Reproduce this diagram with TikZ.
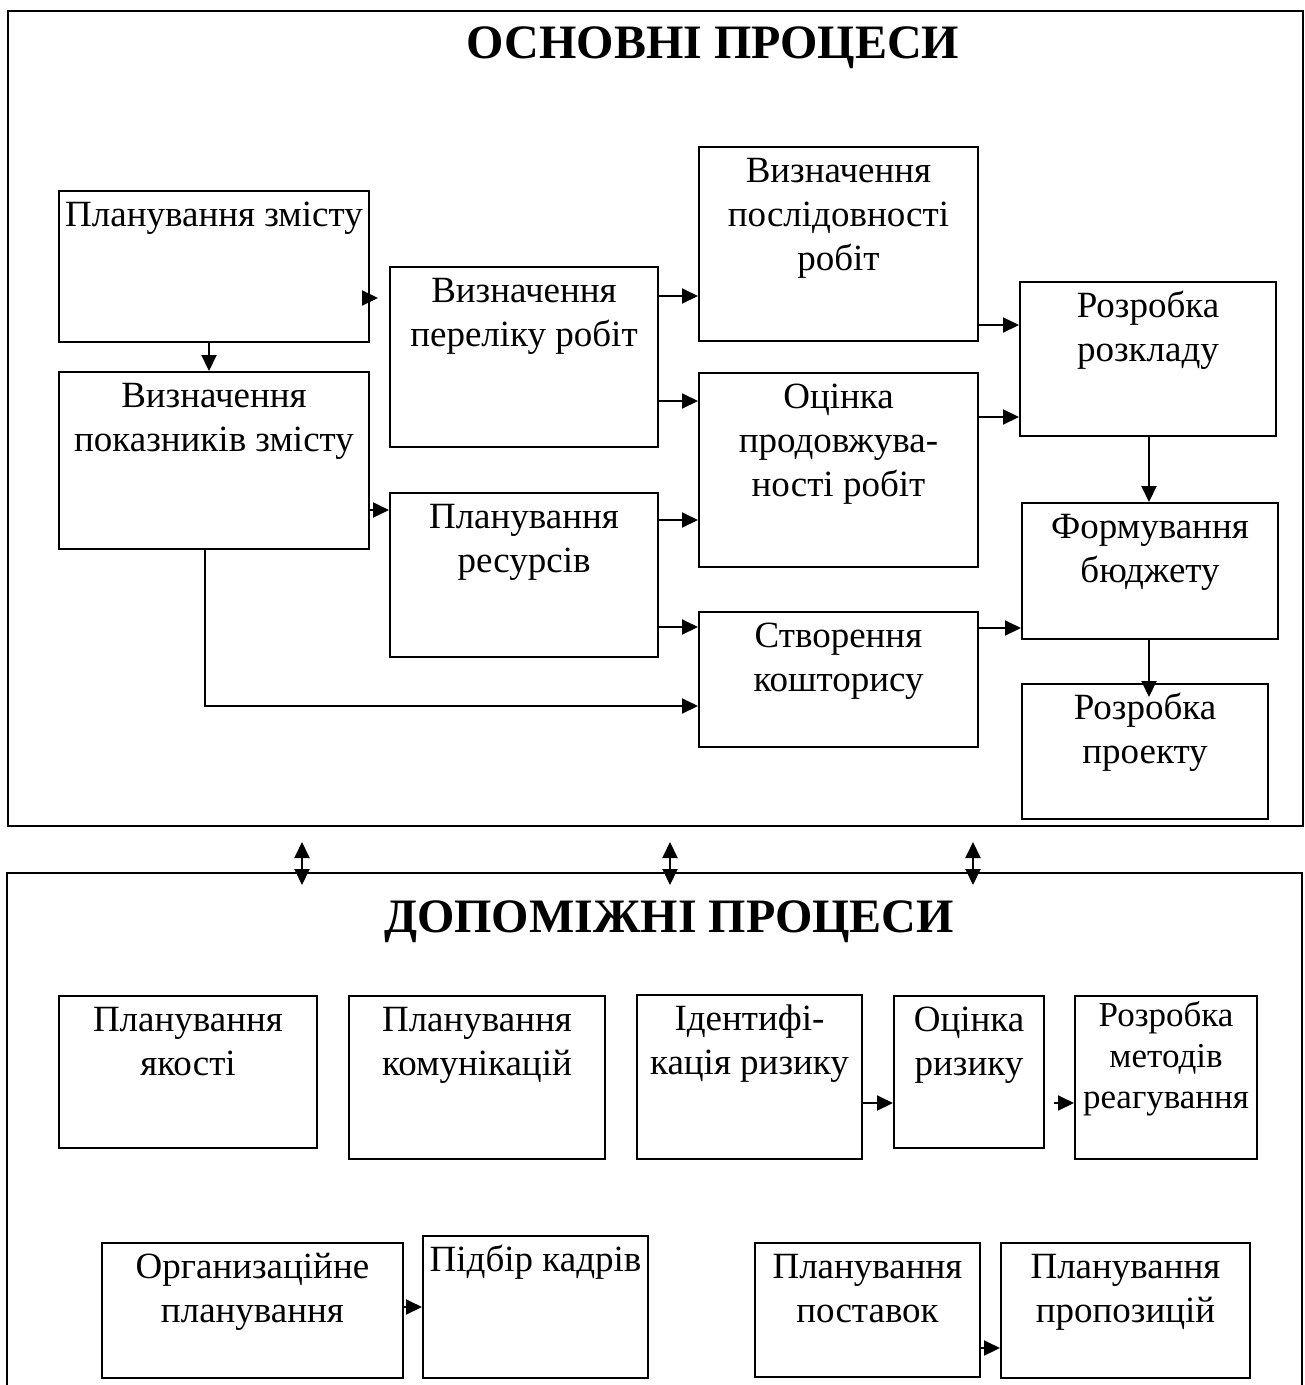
\documentclass[tikz,border=0pt]{standalone}
\usepackage{fontspec}
\setmainfont{Liberation Serif}
\usetikzlibrary{arrows.meta}

% box with its caption set at the top: name, x, y, width, height, text
\newcommand\procbox[6]{%
  \node[pbox, minimum width=#4pt, minimum height=#5pt] (#1) at (#2,#3) {};
  \node[ptext] (#1t) at ([yshift=-5pt]#1.north) {\strut #6};
}

\begin{document}
\begin{tikzpicture}[x=1pt,y=-1pt,
  frame/.style={draw, line width=2pt},
  pbox/.style={draw, line width=2pt, rectangle, inner sep=0pt, anchor=north west},
  ptext/.style={inner sep=0pt, align=center, anchor=north, font=\fontsize{37}{44}\selectfont},
  smalltext/.style={font=\fontsize{35}{41}\selectfont},
  title/.style={inner sep=0pt, anchor=base, font=\fontsize{48}{56}\selectfont\bfseries},
  arr/.style={line width=2pt, -{Triangle[length=16pt,width=15pt]}},
  darr/.style={line width=2pt, {Triangle[length=16pt,width=15pt]}-{Triangle[length=16pt,width=15pt]}},
]
\useasboundingbox[fill=white] (0,0) rectangle (1305,1385);

% ---------------- main processes ----------------
\node[pbox, minimum width=1295pt, minimum height=815pt] (mainframe) at (7,10) {};
\node[title] (maintitle) at (713,58) {ОСНОВНІ ПРОЦЕСИ};

\procbox{A}{58}{190}{310}{151}{Планування змісту}
\procbox{B}{58}{371}{310}{177}{Визначення\\показників змісту}
\procbox{C}{389}{266}{268}{180}{Визначення\\переліку робіт}
\procbox{D}{389}{492}{268}{164}{Планування\\ресурсів}
\procbox{E}{698}{146}{279}{194}{Визначення\\послідовності\\робіт}
\procbox{F}{698}{372}{279}{194}{Оцінка\\продовжува-\\ності робіт}
\procbox{G}{698}{611}{279}{135}{Створення\\кошторису}
\procbox{H}{1019}{281}{256}{154}{Розробка\\розкладу}
\procbox{I}{1021}{502}{256}{136}{Формування\\бюджету}
\procbox{J}{1021}{683}{246}{135}{Розробка\\проекту}

\draw[arr, shorten >=11pt] (A.east |- 0,298) -- (C.west |- 0,298);
\draw[arr] (A.south -| 209,0) -- (B.north -| 209,0);
\draw[arr] (B.east |- 0,510) -- (D.west |- 0,510);
\draw[arr] (C.east |- 0,296) -- (E.west |- 0,296);
\draw[arr] (C.east |- 0,401) -- (F.west |- 0,401);
\draw[arr] (D.east |- 0,520) -- (F.west |- 0,520);
\draw[arr] (D.east |- 0,627) -- (G.west |- 0,627);
\draw[arr] (B.south -| 205,0) |- (G.west |- 0,706);
\draw[arr] (E.east |- 0,325) -- (H.west |- 0,325);
\draw[arr] (F.east |- 0,417) -- (H.west |- 0,417);
\draw[arr] (G.east |- 0,628) -- (I.west |- 0,628);
\draw[arr] (H.south -| 1149,0) -- (I.north -| 1149,0);
\draw[arr, shorten >=-14pt] (I.south -| 1149,0) -- (J.north -| 1149,0);

% ---------------- links between the two groups ----------------
\foreach \px [count=\k] in {302,670,973} {
  \coordinate (up\k) at (\px,842);
  \coordinate (dn\k) at (\px,885);
  \draw[darr] (up\k) -- (dn\k);
}

% ---------------- supporting processes ----------------
\coordinate (lowBL) at (7,1400);
\coordinate (lowTL) at (7,873);
\coordinate (lowTR) at (1302,873);
\coordinate (lowBR) at (1302,1400);
\draw[frame] (lowBL) -- (lowTL) -- (lowTR) -- (lowBR);
\node[title] (suptitle) at (669,932) {ДОПОМІЖНІ ПРОЦЕСИ};

\procbox{K}{58}{995}{258}{152}{Планування\\якості}
\procbox{L}{348}{995}{256}{163}{Планування\\комунікацій}
\procbox{M}{636}{994}{225}{164}{Ідентифі-\\кація ризику}
\procbox{N}{893}{995}{150}{152}{Оцінка\\ризику}
\node[pbox, minimum width=182pt, minimum height=163pt] (O) at (1074,995) {};
\node[ptext, smalltext] (Ot) at ([yshift=-3pt]O.north) {\strut Розробка\\методів\\реагування};

\procbox{P}{101}{1242}{301}{135}{Организаційне\\планування}
\procbox{Q}{422}{1235}{225}{142}{Підбір кадрів}
\procbox{R}{754}{1242}{225}{134}{Планування\\поставок}
\procbox{S}{1000}{1242}{249}{135}{Планування\\пропозицій}

\draw[arr] (M.east |- 0,1103) -- (N.west |- 0,1103);
\draw[arr, shorten <=9pt] (N.east |- 0,1103) -- (O.west |- 0,1103);
\draw[arr] (P.east |- 0,1307) -- (Q.west |- 0,1307);
\draw[arr] (R.east |- 0,1348) -- (S.west |- 0,1348);
\end{tikzpicture}
\end{document}
